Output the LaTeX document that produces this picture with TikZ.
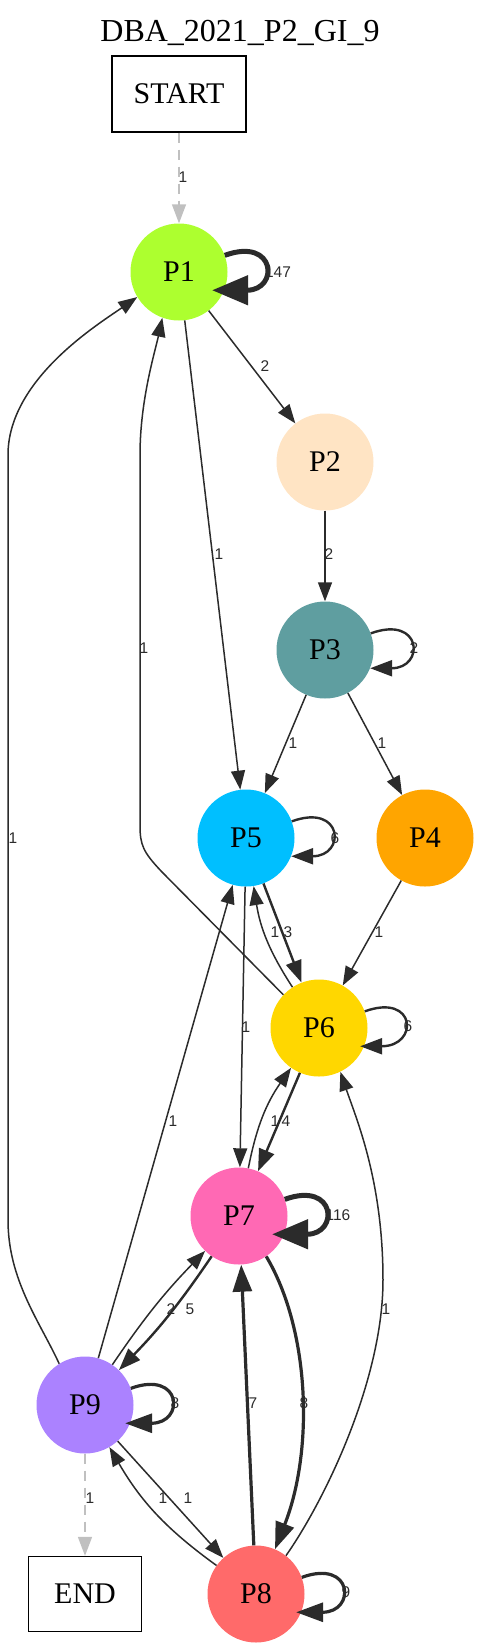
\documentclass[tikz,border=0pt]{standalone}
\usepackage{fontspec}
\setmainfont{Liberation Serif}
\newfontfamily\lblfont{Liberation Sans}
\usetikzlibrary{arrows.meta,positioning}

\definecolor{edgegray}{HTML}{2B2B2B}
\definecolor{termgray}{HTML}{C0C0C0}
\definecolor{cP1}{HTML}{ADFF2F}
\definecolor{cP2}{HTML}{FFE4C4}
\definecolor{cP3}{HTML}{5F9EA0}
\definecolor{cP4}{HTML}{FFA500}
\definecolor{cP5}{HTML}{00BFFF}
\definecolor{cP6}{HTML}{FFD700}
\definecolor{cP7}{HTML}{FF69B4}
\definecolor{cP8}{HTML}{FF6A6A}
\definecolor{cP9}{HTML}{AB82FF}

\tikzset{
  pnode/.style={circle, minimum size=97pt, inner sep=0pt, font=\fontsize{30}{36}\selectfont},
  term/.style={draw, line width=1.3pt, inner sep=0pt, font=\fontsize{30}{36}\selectfont},
  wlbl/.style={inner sep=0pt, text=edgegray, font=\lblfont\fontsize{15.5}{18}\selectfont},
  wA/.style={draw=edgegray, line width=1.5pt, -{Triangle[length=19pt,width=14pt]}},
  wB/.style={draw=edgegray, line width=2.4pt, -{Triangle[length=22pt,width=16pt]}},
  wC/.style={draw=edgegray, line width=3.2pt, -{Triangle[length=27pt,width=19pt]}},
  wD/.style={draw=edgegray, line width=5pt, -{Triangle[length=36pt,width=29pt]}},
  startend/.style={draw=termgray, line width=1.5pt, dash pattern=on 10pt off 7pt,
    -{Triangle[length=19pt,width=14pt]}},
  selfloop/.style={out=20, in=0, distance=55pt}
}

\begin{document}
\begin{tikzpicture}[x=1pt, y=1pt, on grid]
  \useasboundingbox (0,0) rectangle (481,-1650);

  \node[anchor=base, font=\fontsize{32}{38}\selectfont] (title) at (240,-41) {DBA\_2021\_P2\_GI\_9};

  \node[term, minimum width=134pt, minimum height=76pt] (START) at (179,-94) {START};
  \node[pnode, fill=cP1] (P1) at (179,-272) {P1};
  \node[pnode, fill=cP2] (P2) at (325,-462) {P2};
  \node[pnode, fill=cP3] (P3) [below=188pt of P2] {P3};
  \node[pnode, fill=cP5] (P5) at (246,-838) {P5};
  \node[pnode, fill=cP4] (P4) [right=179pt of P5] {P4};
  \node[pnode, fill=cP6] (P6) at (319,-1028) {P6};
  \node[pnode, fill=cP7] (P7) at (239,-1216) {P7};
  \node[pnode, fill=cP9] (P9) at (85,-1405) {P9};
  \node[pnode, fill=cP8] (P8) at (256,-1594) {P8};
  \node[term, minimum width=113pt, minimum height=75pt] (END) [left=171pt of P8] {END};

  \path (START) edge[startend] (P1)
        (P1) edge[wA] (P2)
             edge[wA] (P5)
        (P2) edge[wA] (P3)
        (P3) edge[wA] (P5)
             edge[wA] (P4)
        (P4) edge[wA] (P6)
        (P5) edge[wB] (P6)
             edge[wA] (P7)
        (P6) edge[wA, bend left=12] (P5)
             edge[wB] (P7)
        (P7) edge[wA, bend left=12] (P6)
             edge[wB, bend left=5] (P9)
        (P9) edge[wA, bend left=5] (P7)
             edge[wA] (P5)
             edge[startend] (END)
             edge[wA] (P8)
        (P8) edge[wA, bend left=12] (P9)
             edge[wC] (P7);

  % self loops
  \path (P1.20) edge[wD, selfloop, shorten >=-12pt] (P1.-22)
        (P3.20) edge[wB, selfloop] (P3.-22)
        (P5.20) edge[wB, selfloop] (P5.-22)
        (P6.20) edge[wB, selfloop, shorten >=-4pt] (P6.-22)
        (P7.20) edge[wD, selfloop, shorten >=-12pt] (P7.-22)
        (P9.20) edge[wC, selfloop, shorten >=-5pt] (P9.-22)
        (P8.20) edge[wC, selfloop, shorten >=-5pt] (P8.-22);

  % long curved edges
  \draw[wA] (P9.122) .. controls (40,-1322) and (8,-1280) .. (8,-1220)
            -- (8,-455) .. controls (8,-380) and (97,-325) .. (P1.211);
  \draw[wA] (P6.137) -- (162,-872) .. controls (143,-852) and (140,-845) .. (140,-825)
            -- (140,-455) .. controls (140,-400) and (155,-352) .. (P1.250);
  \draw[wC] (P7.-56) .. controls (310,-1330) and (314,-1450) .. (P8.67);
  \draw[wA] (P8.52) .. controls (325,-1500) and (383,-1380) .. (383,-1280)
            .. controls (383,-1180) and (356,-1118) .. (P6.-64);

  % edge weights
  \node[wlbl] (w-s1)  at (183,-177) {1};
  \node[wlbl] (w-11)  at (278,-272) {147};
  \node[wlbl] (w-12)  at (265,-366) {2};
  \node[wlbl] (w-15)  at (219,-554) {1};
  \node[wlbl] (w-61)  at (144,-648) {1};
  \node[wlbl] (w-91)  at (13,-838) {1};
  \node[wlbl] (w-23)  at (329,-554) {2};
  \node[wlbl] (w-33)  at (414,-648) {2};
  \node[wlbl] (w-35)  at (293,-743) {1};
  \node[wlbl] (w-34)  at (382,-743) {1};
  \node[wlbl] (w-55)  at (335,-838) {6};
  \node[wlbl] (w-65)  at (275,-932) {1};
  \node[wlbl] (w-56)  at (288,-932) {3};
  \node[wlbl] (w-46)  at (379,-932) {1};
  \node[wlbl] (w-66)  at (408,-1026) {6};
  \node[wlbl] (w-57)  at (246,-1027) {1};
  \node[wlbl] (w-95)  at (173,-1121) {1};
  \node[wlbl] (w-76)  at (275,-1121) {1};
  \node[wlbl] (w-67)  at (286,-1121) {4};
  \node[wlbl] (w-77)  at (338,-1215) {116};
  \node[wlbl] (w-97)  at (171,-1309) {2};
  \node[wlbl] (w-79)  at (190,-1309) {5};
  \node[wlbl] (w-86)  at (386,-1309) {1};
  \node[wlbl] (w-99)  at (175,-1403) {8};
  \node[wlbl] (w-87)  at (253,-1403) {7};
  \node[wlbl] (w-78)  at (304,-1403) {8};
  \node[wlbl] (w-9e)  at (90,-1498) {1};
  \node[wlbl] (w-89)  at (163,-1498) {1};
  \node[wlbl] (w-98)  at (188,-1498) {1};
  \node[wlbl] (w-88)  at (346,-1592) {9};
\end{tikzpicture}
\end{document}
